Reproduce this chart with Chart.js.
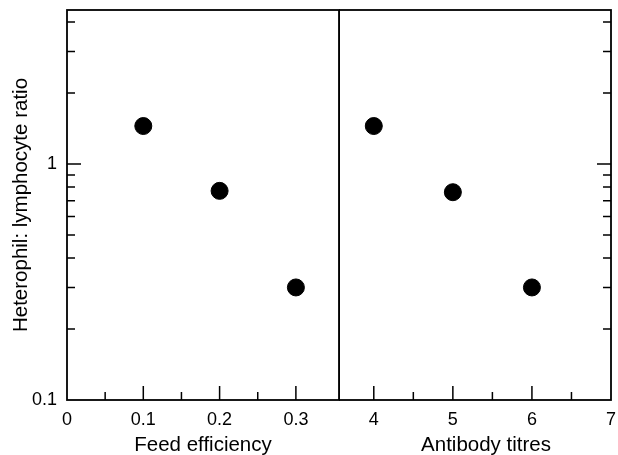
<!DOCTYPE html>
<html>
<head>
<meta charset="utf-8">
<script src="https://cdn.jsdelivr.net/npm/chart.js@4"></script>
<style>
  html, body { margin: 0; padding: 0; background: #fff; }
  #wrap { position: relative; width: 618px; height: 455px; }
  canvas { position: absolute; top: 0; }
</style>
</head>
<body>
<div id="wrap">
  <canvas id="feedChart" width="340" height="455" style="left:0"></canvas>
  <canvas id="titreChart" width="279" height="455" style="left:339px"></canvas>
</div>
<script>
// Data
const feedEfficiency = [0.1, 0.2, 0.3];
const ratioByFeed = [1.45, 0.77, 0.3];
const antibodyTitres = [4, 5, 6];
const ratioByTitre = [1.45, 0.76, 0.3];

// Axis ranges and tick marks
const yRange = [0.1, 4.5];
const yLabels = [0.1, 1];
const yMinor = [0.2, 0.3, 0.4, 0.5, 0.6, 0.7, 0.8, 0.9, 2, 3, 4];
const feedRange = [0, 0.3565];
const feedLabels = [0, 0.1, 0.2, 0.3];
const feedMinor = [0.05, 0.15, 0.25];
const titreRange = [3.56, 7];
const titreLabels = [4, 5, 6, 7];
const titreMinor = [4.5, 5.5, 6.5];

const FONT = "'Liberation Sans', Arial, Helvetica, sans-serif";
Chart.defaults.font.family = FONT;
Chart.defaults.color = '#000';

// Box round the plot area, inward-pointing tick marks and the x-axis title
const framePlugin = {
  id: 'frame',
  afterDraw(chart, args, opts) {
    const ctx = chart.ctx;
    const a = chart.chartArea;
    const x = chart.scales.x, y = chart.scales.y;
    const MAJOR = 14, MINOR = 8;
    ctx.save();
    ctx.strokeStyle = '#000';
    ctx.lineWidth = 1.8;
    ctx.strokeRect(a.left, a.top, a.right - a.left, a.bottom - a.top);
    ctx.lineWidth = 1.5;
    ctx.beginPath();
    opts.xMajor.forEach(v => {
      const px = x.getPixelForValue(v);
      if (px <= a.left + 1 || px >= a.right - 1) return;
      ctx.moveTo(px, a.bottom); ctx.lineTo(px, a.bottom - MAJOR);
    });
    opts.xMinor.forEach(v => {
      const px = x.getPixelForValue(v);
      ctx.moveTo(px, a.bottom); ctx.lineTo(px, a.bottom - MINOR);
    });
    const edge = opts.side === 'left' ? a.left : a.right;
    const dir = opts.side === 'left' ? 1 : -1;
    yLabels.forEach(v => {
      const py = y.getPixelForValue(v);
      if (py >= a.bottom - 1) return;
      ctx.moveTo(edge, py); ctx.lineTo(edge + dir * MAJOR, py);
    });
    yMinor.forEach(v => {
      const py = y.getPixelForValue(v);
      ctx.moveTo(edge, py); ctx.lineTo(edge + dir * MINOR, py);
    });
    ctx.stroke();

    // x-axis title
    ctx.fillStyle = '#000';
    ctx.font = '20.5px ' + FONT;
    ctx.textAlign = 'center';
    ctx.textBaseline = 'alphabetic';
    ctx.fillText(opts.title, (a.left + a.right) / 2 + opts.titleShift, 451);
    ctx.restore();
  }
};

function setTicks(list) {
  return function(scale) { scale.ticks = list.map(v => ({ value: v })); };
}

function noPad(s) {
  s.paddingLeft = 0; s.paddingRight = 0; s.paddingTop = 0; s.paddingBottom = 0;
}

function makeChart(id, xs, ys, xRange, xLabels, xMinor, xTitle, side, titleShift) {
  const showY = side === 'left';
  return new Chart(document.getElementById(id), {
    type: 'scatter',
    data: {
      datasets: [{
        data: xs.map((v, i) => ({ x: v, y: ys[i] })),
        backgroundColor: '#000',
        borderColor: '#000',
        pointRadius: 8.5,
        pointHoverRadius: 8.5
      }]
    },
    options: {
      responsive: false,
      animation: false,
      events: [],
      layout: {
        autoPadding: false,
        padding: side === 'left'
          ? { top: 10, right: 1, left: 0, bottom: 0 }
          : { top: 10, right: 7, left: 0, bottom: 0 }
      },
      plugins: {
        legend: { display: false },
        tooltip: { enabled: false },
        frame: { side: side, xMajor: xLabels, xMinor: xMinor, title: xTitle, titleShift: titleShift }
      },
      scales: {
        x: {
          type: 'linear',
          min: xRange[0],
          max: xRange[1],
          afterBuildTicks: setTicks(xLabels),
          afterFit: s => { s.height = 55; noPad(s); },
          grid: { display: false, drawTicks: false },
          border: { display: false },
          ticks: {
            padding: 9,
            font: { size: 18 },
            callback: v => String(v)
          }
        },
        y: {
          type: 'logarithmic',
          display: showY,
          min: yRange[0],
          max: yRange[1],
          afterBuildTicks: setTicks(yLabels),
          afterFit: s => { s.width = showY ? 67 : 0; noPad(s); },
          grid: { display: false, drawTicks: false },
          border: { display: false },
          ticks: {
            padding: 10,
            font: { size: 18 },
            callback: v => String(v)
          },
          title: {
            display: true,
            text: 'Heterophil: lymphocyte ratio',
            font: { size: 20.5 },
            padding: { top: 9, bottom: 0 }
          }
        }
      }
    },
    plugins: [framePlugin]
  });
}

makeChart('feedChart', feedEfficiency, ratioByFeed, feedRange, feedLabels, feedMinor, 'Feed efficiency', 'left', 0);
makeChart('titreChart', antibodyTitres, ratioByTitre, titreRange, titreLabels, titreMinor, 'Antibody titres', 'right', 11);
</script>
</body>
</html>
